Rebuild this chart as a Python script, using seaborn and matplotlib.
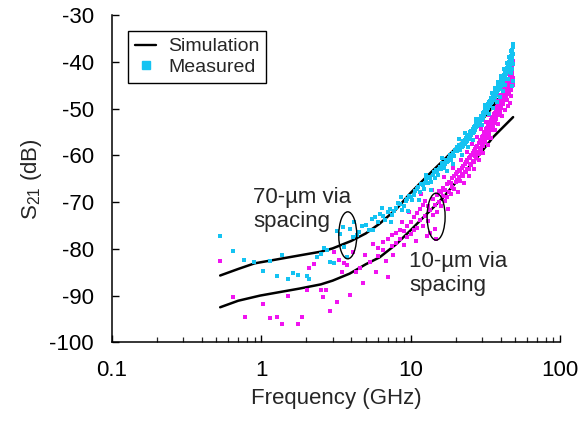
import matplotlib
matplotlib.use("Agg")
import matplotlib.pyplot as plt
import matplotlib.transforms as mtransforms
from matplotlib.patches import Ellipse
from matplotlib.lines import Line2D
import seaborn as sns
import pandas as pd

# ---------------- data ----------------
# Simulation, 70-um via spacing (upper curve)
sim70_f = [0.53, 0.7, 0.9, 1.3, 1.8, 2.5, 3.0, 4.0, 5.0, 6.2, 8.0, 10, 13, 16.5, 22, 28, 34, 41, 48]
sim70_db = [-85.7, -84.3, -83.1, -82.2, -81.4, -80.6, -79.9, -78.3, -76.7, -74.6, -71.5, -68.0,
            -64.3, -61.1, -57.2, -53.6, -50.3, -46.8, -43.5]
# Simulation, 10-um via spacing (lower curve)
sim10_f = [0.53, 0.7, 0.98, 1.3, 1.8, 2.5, 3.0, 3.9, 5.0, 6.2, 8.0, 10, 11.6, 14, 16.5, 21.4, 27.9, 35.6, 48.5]
sim10_db = [-92.5, -91.1, -90.0, -89.3, -88.5, -87.6, -86.8, -85.3, -83.3, -81.8, -79.0, -76.0,
            -73.9, -71.3, -69.0, -64.7, -60.4, -56.1, -51.8]

# Measured, 70-um via spacing (cyan)
meas70_f = [0.53, 0.65, 0.77, 0.89, 1.03, 1.14, 1.27, 1.38, 1.51, 1.64, 1.76, 2.03, 2.10, 2.37, 2.50,
            2.63, 2.75, 2.88, 3.08, 3.20, 3.36, 3.53, 3.60, 3.74, 3.90, 4.10, 4.20, 4.35,
            4.5, 5.0, 5.5, 6.0, 6.5, 7.0, 7.5, 8.0, 8.5, 9.0, 9.5, 10.0, 10.5, 11.0, 11.5, 12.0, 12.5,
            13.0, 13.5, 14.0, 14.5, 15.0, 15.5, 16.0, 16.5, 17.0, 17.5, 18.0, 18.5, 19.0, 19.5, 20.0,
            4.75, 5.25, 5.75, 6.25, 6.75, 7.25, 7.75, 8.25, 8.75, 9.25, 9.75, 10.25, 10.75, 11.25, 11.75,
            12.25, 12.75, 13.25, 13.75, 14.25, 14.75, 15.25, 15.75, 16.25, 16.75, 17.25, 17.75, 18.25,
            18.75, 19.25, 19.75,
            20.5, 20.5, 21.0, 21.0, 21.5, 21.5, 22.0, 22.0, 22.5, 22.5, 23.0, 23.0, 23.5, 23.5, 24.0, 24.0,
            24.5, 24.5, 25.0, 25.0, 25.5, 25.5, 26.0, 26.0, 26.5, 26.5, 27.0, 27.0, 27.5, 27.5, 28.0, 28.0,
            28.5, 28.5, 29.0, 29.0, 29.5, 29.5, 30.0, 30.0, 30.5, 30.5, 31.0, 31.0, 31.5, 31.5, 32.0, 32.0,
            32.5, 32.5, 33.0, 33.0, 33.5, 33.5, 34.0, 34.0, 34.5, 34.5, 35.0, 35.0, 35.5, 35.5, 36.0, 36.0,
            36.5, 36.5, 37.0, 37.0, 37.5, 37.5, 38.0, 38.0, 38.5, 38.5, 39.0, 39.0, 39.5, 39.5, 40.0, 40.0,
            40.5, 40.5, 41.0, 41.0, 41.5, 41.5, 42.0, 42.0, 42.5, 42.5, 43.0, 43.0, 43.5, 43.5, 44.0, 44.0,
            44.5, 44.5, 45.0, 45.0, 45.5, 45.5, 46.0, 46.0, 46.5, 46.5, 47.0, 47.0, 47.5, 47.5, 48.0, 48.0,
            48.5, 48.5,
            30.2, 31.3, 33.2, 34.8, 35.8, 36.8, 37.6, 38.6, 39.4, 40.3, 41.2, 42.2, 43.1, 44.2, 45.1, 45.8,
            46.6, 47.3, 47.9, 48.3, 48.6, 48.4, 47.6, 26.3, 27.4, 24.3, 23.2, 22.1, 21.2, 19.3, 17.4, 16.2,
            13.6, 12.6, 11.3, 9.6, 8.6, 7.4, 6.4, 5.6]
meas70_db = [-77.3, -80.5, -82.3, -82.8, -84.8, -82.5, -85.9, -81.4, -86.5, -85.2, -85.5, -85.9, -86.4, -81.8, -81.2,
             -79.9, -80.2, -82.9, -83.1, -76.1, -76.9, -75.4, -79.5, -81.8, -75.7, -77.5, -74.3, -77.0,
             -76.3, -74.8, -73.6, -74.2, -73.0, -72.1, -72.8, -71.2, -70.4, -70.9, -69.3, -69.0, -68.4, -67.2, -67.8, -66.3, -66.0,
             -65.9, -64.8, -64.1, -64.9, -63.6, -63.0, -62.9, -62.1, -61.8, -61.4, -60.6, -60.9, -59.8, -60.2, -59.1,
             -75.2, -75.9, -73.1, -72.6, -73.9, -71.5, -71.9, -70.1, -71.6, -69.8, -68.7, -69.6, -67.6, -66.8, -66.1,
             -67.1, -65.1, -64.6, -65.6, -63.5, -63.2, -64.2, -62.4, -61.6, -62.7, -60.9, -61.2, -59.9,
             -60.4, -59.4, -58.8,
             -59.0, -58.2, -58.6, -57.7, -58.1, -58.9, -57.5, -58.3, -57.9, -57.0, -56.8, -57.6, -57.2, -56.3, -56.0, -56.9,
             -55.6, -56.5, -55.9, -55.0, -54.8, -55.7, -55.2, -54.3, -54.0, -54.9, -53.6, -54.5, -53.9, -53.1, -53.0, -53.8,
             -52.7, -53.5, -52.2, -53.1, -52.5, -51.6, -51.5, -52.4, -51.0, -51.9, -50.6, -51.4, -50.9, -50.0, -49.8, -50.7,
             -49.4, -50.3, -49.0, -49.9, -48.6, -49.5, -48.3, -49.2, -48.7, -47.8, -47.6, -48.5, -47.2, -48.1, -47.0, -47.9,
             -46.5, -47.4, -46.2, -47.1, -46.7, -45.8, -45.6, -46.5, -45.2, -46.1, -44.9, -45.8, -44.5, -45.4, -44.2, -45.1,
             -43.8, -44.7, -43.5, -44.4, -43.1, -44.0, -42.8, -43.7, -42.4, -43.3, -42.0, -43.0, -41.7, -42.6, -41.3, -42.2,
             -40.9, -41.8, -40.5, -41.5, -40.1, -41.2, -39.6, -40.6, -39.2, -40.3, -38.7, -39.9, -38.2, -39.5, -37.5, -38.9,
             -36.8, -38.2,
             -53.5, -49.2, -51.2, -46.6, -49.8, -45.5, -48.6, -44.3, -47.4, -43.0, -46.2, -41.6, -44.9, -40.3, -43.6, -38.9,
             -42.4, -37.6, -41.6, -36.2, -40.5, -44.0, -45.2, -56.6, -52.2, -58.3, -55.2, -59.8, -56.4, -61.9, -63.3, -60.6,
             -67.3, -64.2, -69.5, -71.8, -68.8, -74.3, -71.3, -76.0]

# Measured, 10-um via spacing (magenta)
meas10_f = [0.53, 0.65, 0.78, 1.03, 1.14, 1.27, 1.38, 1.51, 1.76, 1.87, 2.03, 2.10, 2.25, 2.50, 2.60, 2.70,
            2.90, 3.07, 3.20, 3.30, 3.45, 3.60, 3.75, 3.90, 4.10, 4.30, 4.60, 4.80, 4.95, 5.30, 5.60, 5.90,
            6.0, 6.0, 6.5, 6.5, 7.0, 7.0, 7.5, 7.5, 8.0, 8.0, 8.5, 8.5, 9.0, 9.0, 9.5, 9.5, 10.0, 10.0,
            10.5, 10.5, 11.0, 11.0, 11.5, 11.5, 12.0, 12.0, 12.5, 12.5, 13.0, 13.0, 13.5, 13.5, 14.0, 14.0,
            14.5, 14.5, 15.0, 15.0, 15.5, 15.5, 16.0, 16.0, 16.5, 16.5, 17.0, 17.0, 17.5, 17.5, 18.0, 18.0,
            18.5, 18.5, 19.0, 19.0, 19.5, 19.5, 20.0, 20.0,
            20.5, 20.5, 21.0, 21.0, 21.5, 21.5, 22.0, 22.0, 22.5, 22.5, 23.0, 23.0, 23.5, 23.5, 24.0, 24.0,
            24.5, 24.5, 25.0, 25.0, 25.5, 25.5, 26.0, 26.0, 26.5, 26.5, 27.0, 27.0, 27.5, 27.5, 28.0, 28.0,
            28.5, 28.5, 29.0, 29.0, 29.5, 29.5, 30.0, 30.0, 30.5, 30.5, 31.0, 31.0, 31.5, 31.5, 32.0, 32.0,
            32.5, 32.5, 33.0, 33.0, 33.5, 33.5, 34.0, 34.0, 34.5, 34.5, 35.0, 35.0, 35.5, 35.5, 36.0, 36.0,
            36.5, 36.5, 37.0, 37.0, 37.5, 37.5, 38.0, 38.0, 38.5, 38.5, 39.0, 39.0, 39.5, 39.5, 40.0, 40.0,
            40.5, 40.5, 41.0, 41.0, 41.5, 41.5, 42.0, 42.0, 42.5, 42.5, 43.0, 43.0, 43.5, 43.5, 44.0, 44.0,
            44.5, 44.5, 45.0, 45.0, 45.5, 45.5, 46.0, 46.0, 46.5, 46.5, 47.0, 47.0, 47.5, 47.5, 48.0, 48.0,
            48.5, 48.5, 44.5, 46.0, 47.0,
            20.8, 22.8, 24.7, 26.7, 28.7, 30.7, 32.8, 34.7, 36.7, 38.7, 40.6, 42.6, 44.3, 45.7, 47.3, 48.2,
            21.7, 23.7, 25.7, 27.7, 29.7, 31.7, 33.7, 35.7, 37.7, 39.7, 41.7, 43.7, 45.3, 46.8, 48.1,
            11.8, 12.8, 13.8, 14.8, 16.8, 17.8, 19.2, 9.8, 10.8, 7.6, 8.8, 6.8]
meas10_db = [-82.5, -90.4, -94.5, -91.8, -94.8, -94.5, -96.1, -90.0, -96.1, -94.5, -88.9, -84.0, -83.2, -88.9, -90.4, -88.7,
             -93.4, -80.7, -91.4, -82.4, -85.0, -83.0, -83.5, -89.8, -80.7, -85.0, -84.0, -87.4, -81.4, -82.9, -78.9, -85.0,
             -79.8, -81.5, -78.6, -80.2, -77.9, -86.0, -79.3, -77.1, -76.5, -78.8, -77.8, -75.9, -76.2, -79.1, -75.1, -77.4, -74.3, -76.9,
             -73.2, -76.0, -75.5, -72.4, -73.8, -71.5, -70.6, -75.2, -72.9, -69.8, -74.1, -70.9, -71.6, -76.5, -69.4, -72.8,
             -70.7, -75.8, -68.5, -72.2, -69.9, -67.6, -70.8, -67.9, -68.6, -66.9, -67.3, -69.8, -66.2, -68.9, -67.8, -65.6,
             -65.9, -68.2, -66.7, -64.8, -64.5, -67.1, -65.6, -63.9,
             -65.2, -63.6, -64.7, -63.1, -63.4, -65.5, -63.9, -62.6, -62.2, -64.4, -63.5, -61.8, -61.4, -63.6, -62.8, -61.0,
             -60.6, -62.9, -61.9, -60.3, -59.8, -62.0, -61.1, -59.5, -59.0, -61.3, -60.2, -58.7, -58.2, -60.5, -59.3, -57.9,
             -57.4, -59.6, -58.4, -57.0, -56.6, -58.8, -57.5, -56.1, -55.8, -57.9, -56.6, -55.3, -55.0, -57.1, -55.8, -54.4,
             -54.1, -56.3, -54.9, -53.6, -53.3, -55.5, -54.1, -52.8, -52.5, -54.6, -53.3, -52.0, -51.7, -53.8, -52.5, -51.2,
             -50.9, -53.0, -51.7, -50.4, -50.1, -52.2, -50.9, -49.6, -49.3, -51.4, -50.1, -48.8, -48.5, -50.6, -49.3, -48.0,
             -47.7, -49.8, -48.5, -47.2, -46.9, -49.0, -47.7, -46.4, -46.1, -48.2, -46.9, -45.6, -45.3, -47.4, -46.1, -44.8,
             -44.5, -46.6, -45.3, -43.9, -43.6, -45.8, -44.4, -43.0, -42.7, -44.9, -43.5, -42.0, -41.7, -44.0, -42.5, -40.8,
             -40.2, -43.5, -49.5, -48.8, -47.2,
             -67.8, -66.0, -64.3, -62.8, -61.0, -59.4, -57.7, -56.2, -54.6, -53.2, -51.6, -50.3, -48.2, -46.9, -45.9, -45.0,
             -61.0, -59.3, -57.6, -56.0, -54.4, -52.8, -51.4, -49.9, -48.4, -47.0, -45.6, -44.2, -42.6, -41.3, -39.8,
             -68.2, -77.3, -67.4, -77.8, -64.6, -71.4, -62.6, -72.2, -78.4, -81.4, -74.2, -82.6]

x_ticks = [0.1, 1, 10, 100]
x_tick_labels = ["0.1", "1", "10", "100"]
y_ticks = [-100, -90, -80, -70, -60, -50, -40, -30]

# ---------------- style ----------------
sns.set_style("ticks")
plt.rcParams["font.family"] = ["Liberation Sans", "DejaVu Sans"]
plt.rcParams["mathtext.fontset"] = "custom"
plt.rcParams["mathtext.rm"] = "Liberation Sans"
plt.rcParams["mathtext.it"] = "Liberation Sans:italic"

CYAN = "#14C3F2"
MAGENTA = "#F014F0"

fig = plt.figure(figsize=(5.81, 4.28), dpi=100)
ax = fig.add_axes([0.1928, 0.2002, 0.7711, 0.7641])

df_m70 = pd.DataFrame({"f": meas70_f, "db": meas70_db})
df_m10 = pd.DataFrame({"f": meas10_f, "db": meas10_db})
df_s70 = pd.DataFrame({"f": sim70_f, "db": sim70_db})
df_s10 = pd.DataFrame({"f": sim10_f, "db": sim10_db})

sns.lineplot(data=df_s70, x="f", y="db", ax=ax, color="black", lw=1.8, estimator=None,
             zorder=2)
sns.lineplot(data=df_s10, x="f", y="db", ax=ax, color="black", lw=1.8, estimator=None,
             zorder=2)
sns.scatterplot(data=df_m10, x="f", y="db", ax=ax, color=MAGENTA, marker="s", s=9,
                linewidth=0, zorder=3)
sns.scatterplot(data=df_m70, x="f", y="db", ax=ax, color=CYAN, marker="s", s=9,
                linewidth=0, zorder=3)

ax.set_xscale("log")
ax.set_xlim(0.1, 100)
ax.set_ylim(-100, -30)
ax.set_xticks(x_ticks)
ax.set_xticklabels(x_tick_labels)
ax.set_yticks(y_ticks)
ax.set_yticklabels([str(v) for v in y_ticks])

for s in ["top", "right"]:
    ax.spines[s].set_visible(False)
for s in ["left", "bottom"]:
    ax.spines[s].set_linewidth(1.1)
    ax.spines[s].set_color("black")

ax.tick_params(axis="both", which="major", direction="in", length=5, width=1.0,
               labelsize=16, pad=13, colors="black")
ax.tick_params(axis="x", which="minor", direction="in", length=3.5, width=0.9)
ax.tick_params(axis="y", which="minor", left=False)

ax.set_xlabel("Frequency (GHz)", fontsize=16, labelpad=5)
ax.set_ylabel(r"S$_{\mathrm{21}}$ (dB)", fontsize=16, labelpad=4)

# legend
handles = [Line2D([0], [0], color="black", lw=1.7),
           Line2D([0], [0], color=CYAN, marker="s", linestyle="none", markersize=6)]
leg = ax.legend(handles, ["Simulation", "Measured"], loc="upper left",
                bbox_to_anchor=(0.036, 0.952), borderaxespad=0, fontsize=14,
                frameon=True, fancybox=False, framealpha=1, edgecolor="black",
                handlelength=1.1, handletextpad=0.6, labelspacing=0.15,
                borderpad=0.35)
leg.get_frame().set_linewidth(1.0)

# ellipses
def add_ellipse(xc, yc):
    tr = fig.dpi_scale_trans + mtransforms.ScaledTranslation(xc, yc, ax.transData)
    e = Ellipse((0, 0), width=0.18, height=0.47, fill=False, edgecolor="black",
                lw=1.0, transform=tr, zorder=4)
    ax.add_patch(e)

add_ellipse(3.79, -77.1)
add_ellipse(14.8, -73.1)

ax.text(0.88, -71.5, "70-µm via\nspacing", fontsize=16, ha="left", va="center",
        linespacing=1.2, zorder=5)
ax.text(9.75, -85.2, "10-µm via\nspacing", fontsize=16, ha="left", va="center",
        linespacing=1.2, zorder=5)

fig.savefig("out.png", dpi=100)
